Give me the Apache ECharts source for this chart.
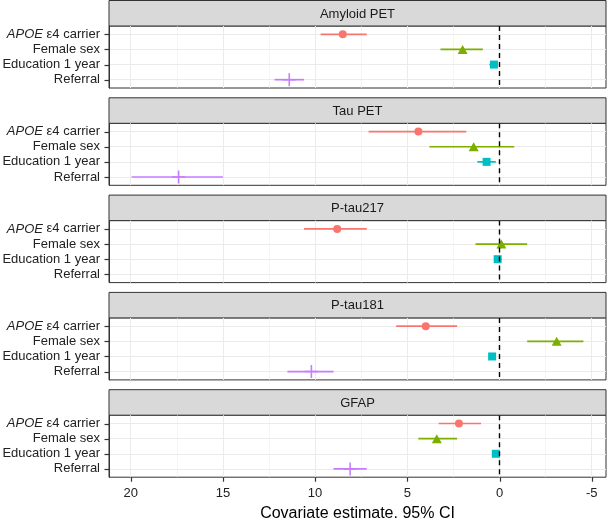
<!DOCTYPE html>
<html><head><meta charset="utf-8">
<script src="https://cdn.jsdelivr.net/npm/echarts@6/dist/echarts.min.js"></script>
<style>html,body{margin:0;padding:0;background:#fff}#c{width:607px;height:518px}</style>
</head><body><div id="c"></div>
<script>
// ---------- data ----------
const panels = ['Amyloid PET', 'Tau PET', 'P-tau217', 'P-tau181', 'GFAP'];
const covariates = ['APOE ε4 carrier', 'Female sex', 'Education 1 year', 'Referral'];
// point estimates per panel (order of covariates); null = not estimated
const estAmyloid = [8.5, 2.0, 0.3, 11.4];
const estTau     = [4.4, 1.4, 0.7, 17.4];
const estPt217   = [8.8, -0.1, 0.1, null];
const estPt181   = [4.0, -3.1, 0.4, 10.2];
const estGfap    = [2.2, 3.4, 0.2, 8.1];
// 95% CI lower / upper values
const loAmyloid = [7.2, 0.9, 0.1, 10.6];
const hiAmyloid = [9.7, 3.2, 0.55, 12.2];
const loTau     = [1.8, -0.8, 0.2, 15.0];
const hiTau     = [7.1, 3.8, 1.2, 19.95];
const loPt217   = [7.2, -1.5, -0.1, null];
const hiPt217   = [10.6, 1.3, 0.3, null];
const loPt181   = [2.3, -4.55, 0.2, 9.0];
const hiPt181   = [5.6, -1.5, 0.6, 11.5];
const loGfap    = [1.0, 2.3, 0.05, 7.2];
const hiGfap    = [3.3, 4.4, 0.35, 9.0];
const xMajorTicks = [20, 15, 10, 5, 0, -5];
const xMinorTicks = [17.5, 12.5, 7.5, 2.5, -2.5];
const xTitle = 'Covariate estimate, 95% CI';

const estimates = [estAmyloid, estTau, estPt217, estPt181, estGfap];
const lows = [loAmyloid, loTau, loPt217, loPt181, loGfap];
const highs = [hiAmyloid, hiTau, hiPt217, hiPt181, hiGfap];

// ---------- styles ----------
const colors = ['#F8766D', '#7CAE00', '#00BFC4', '#C77CFF'];
const plusPath = 'path://M0.44,0L0.56,0L0.56,0.44L1,0.44L1,0.56L0.56,0.56L0.56,1L0.44,1L0.44,0.56L0,0.56L0,0.44L0.44,0.44Z';
const symbols = ['circle', 'triangle', 'rect', plusPath];
const symbolSizes = [8, [10, 9], 8, 13];
const FONT = '"Liberation Sans", Arial, Helvetica, sans-serif';

// x range (ggplot-like 5% expansion)
let all = [];
lows.forEach(a => a.forEach(v => v != null && all.push(v)));
highs.forEach(a => a.forEach(v => v != null && all.push(v)));
const dMin = Math.min(...all), dMax = Math.max(...all);
const pad = (dMax - dMin) * 0.05;
const xMin = dMin - pad, xMax = dMax + pad;
const yMin = -0.55, yMax = 3.55;

const LEFT = 109, RIGHT_EDGE = 606, STRIP_H = 26, PANEL_H = 62, PERIOD = 97.3;
const W = RIGHT_EDGE - LEFT;
const rowTicks = [0, 1, 2, 3];

const grids = [], xAxes = [], yAxes = [], series = [], graphics = [];
panels.forEach((name, k) => {
  const top = k * PERIOD + STRIP_H;
  const last = k === panels.length - 1;
  grids.push({left: LEFT, top: top, width: W, height: PANEL_H, show: true, outerBoundsMode: 'none',
    borderColor: '#333333', borderWidth: 1, backgroundColor: 'transparent', containLabel: false});
  xAxes.push({type: 'value', gridIndex: k, min: xMin, max: xMax, inverse: true, position: 'bottom',
    axisLine: {show: false, onZero: false},
    axisTick: {show: false, customValues: xMajorTicks},
    axisLabel: {show: last, customValues: xMajorTicks, color: '#222', fontSize: 13, fontFamily: FONT, margin: 9.5,
      formatter: v => String(v)},
    splitLine: {show: true, lineStyle: {color: '#EBEBEB', width: 1}},
    name: last ? xTitle : '', nameLocation: 'middle', nameGap: 28,
    nameTextStyle: {fontSize: 16, color: '#000', fontFamily: FONT}
  });
  xAxes.push({type: 'value', gridIndex: k, min: xMin, max: xMax, inverse: true, position: 'top',
    axisLine: {show: false, onZero: false},
    axisTick: {show: false, customValues: xMinorTicks},
    axisLabel: {show: false, customValues: xMinorTicks},
    splitLine: {show: true, lineStyle: {color: '#EFEFEF', width: 0.6}}
  });
  yAxes.push({type: 'value', gridIndex: k, min: yMin, max: yMax, inverse: true, position: 'left',
    axisLine: {show: true, onZero: false, lineStyle: {color: '#333333', width: 1}},
    axisTick: {show: false, customValues: rowTicks},
    axisLabel: {show: true, customValues: rowTicks, margin: 9, color: '#222', fontSize: 13, fontFamily: FONT,
      formatter: v => {
        const lab = covariates[Math.round(v)];
        if (lab.indexOf('APOE') === 0) return '{i|APOE}' + lab.slice(4);
        return lab;
      },
      rich: {i: {fontStyle: 'italic', fontSize: 13, fontFamily: FONT, color: '#222'}}
    },
    splitLine: {show: true, lineStyle: {color: '#EBEBEB', width: 1}}
  });

  const barData = [], ptData = [];
  covariates.forEach((c, i) => {
    if (estimates[k][i] == null) return;
    barData.push([i, lows[k][i], highs[k][i]]);
    ptData.push({value: [estimates[k][i], i], symbol: symbols[i], symbolSize: symbolSizes[i],
      itemStyle: {color: colors[i]}});
  });
  series.push({type: 'custom', xAxisIndex: 2 * k, yAxisIndex: k, z: 2, silent: true,
    encode: {x: [1, 2], y: 0},
    data: barData,
    renderItem: (params, api) => {
      const ci = api.value(0);
      const p1 = api.coord([api.value(1), ci]);
      const p2 = api.coord([api.value(2), ci]);
      return {type: 'line', shape: {x1: p1[0], y1: p1[1], x2: p2[0], y2: p2[1]},
        style: {stroke: colors[ci], lineWidth: 1.7}};
    }
  });
  series.push({type: 'scatter', xAxisIndex: 2 * k, yAxisIndex: k, z: 3, silent: true,
    data: ptData, itemStyle: {opacity: 1}});
  series.push({type: 'line', xAxisIndex: 2 * k, yAxisIndex: k, z: 5, silent: true, data: [],
    markLine: {silent: true, symbol: 'none', label: {show: false}, animation: false,
      lineStyle: {color: '#000', type: [5, 4], width: 1.4},
      data: [{xAxis: 0}]}
  });
  // left axis tick marks (drawn through the y scale)
  series.push({type: 'custom', xAxisIndex: 2 * k, yAxisIndex: k, z: 6, silent: true, clip: false,
    encode: {y: 0},
    data: rowTicks.map(v => [v]),
    renderItem: (params, api) => {
      const p = api.coord([xMax, api.value(0)]);
      const y = Math.round(p[1]) + 0.5;
      return {type: 'line', shape: {x1: p[0] - 4.5, y1: y, x2: p[0], y2: y},
        style: {stroke: '#333333', lineWidth: 1.2}};
    }
  });
  if (last) {
    // bottom axis tick marks (drawn through the x scale)
    series.push({type: 'custom', xAxisIndex: 2 * k, yAxisIndex: k, z: 6, silent: true, clip: false,
      encode: {x: 0},
      data: xMajorTicks.map(v => [v]),
      renderItem: (params, api) => {
        const p = api.coord([api.value(0), yMax]);
        const x = Math.round(p[0]) + 0.5;
        return {type: 'line', shape: {x1: x, y1: p[1], x2: x, y2: p[1] + 4.5},
          style: {stroke: '#333333', lineWidth: 1.2}};
      }
    });
  }

  const sTop = k * PERIOD + 0.5;
  graphics.push({type: 'rect', silent: true, shape: {x: LEFT, y: sTop, width: W, height: STRIP_H - 0.5},
    style: {fill: '#D9D9D9', stroke: '#333333', lineWidth: 1}});
  graphics.push({type: 'text', silent: true, x: LEFT + W / 2, y: sTop + 13.5,
    style: {text: name, fontSize: 13, fontFamily: FONT, fill: '#1A1A1A', align: 'center', verticalAlign: 'middle'}});
});

const chart = echarts.init(document.getElementById('c'), null, {renderer: 'canvas'});
chart.setOption({
  animation: false,
  backgroundColor: '#fff',
  grid: grids, xAxis: xAxes, yAxis: yAxes, series: series, graphic: graphics
});
</script>
</body></html>
